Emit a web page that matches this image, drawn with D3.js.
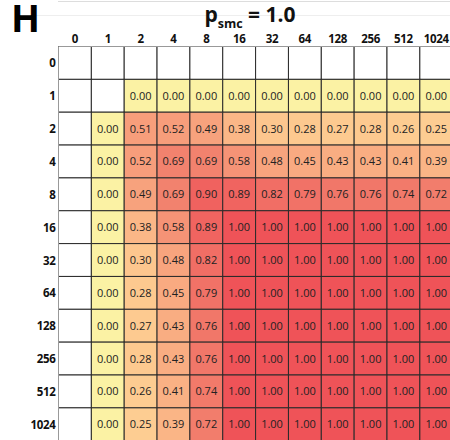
<!DOCTYPE html>
<html><head><meta charset="utf-8">
<script src="https://cdn.jsdelivr.net/npm/d3@7"></script>
<style>body{margin:0;background:#fff;}svg{display:block;}</style>
</head><body>
<svg id="c" width="450" height="440"></svg>
<script>
const colLabels = ["0","1","2","4","8","16","32","64","128","256","512","1024"];
const rowLabels = ["0","1","2","4","8","16","32","64","128","256","512","1024"];
const N = null;
const row0    = [N,N,N,N,N,N,N,N,N,N,N,N];
const row1    = [N,N,0.00,0.00,0.00,0.00,0.00,0.00,0.00,0.00,0.00,0.00];
const row2    = [N,0.00,0.51,0.52,0.49,0.38,0.30,0.28,0.27,0.28,0.26,0.25];
const row4    = [N,0.00,0.52,0.69,0.69,0.58,0.48,0.45,0.43,0.43,0.41,0.39];
const row8    = [N,0.00,0.49,0.69,0.90,0.89,0.82,0.79,0.76,0.76,0.74,0.72];
const row16   = [N,0.00,0.38,0.58,0.89,1.00,1.00,1.00,1.00,1.00,1.00,1.00];
const row32   = [N,0.00,0.30,0.48,0.82,1.00,1.00,1.00,1.00,1.00,1.00,1.00];
const row64   = [N,0.00,0.28,0.45,0.79,1.00,1.00,1.00,1.00,1.00,1.00,1.00];
const row128  = [N,0.00,0.27,0.43,0.76,1.00,1.00,1.00,1.00,1.00,1.00,1.00];
const row256  = [N,0.00,0.28,0.43,0.76,1.00,1.00,1.00,1.00,1.00,1.00,1.00];
const row512  = [N,0.00,0.26,0.41,0.74,1.00,1.00,1.00,1.00,1.00,1.00,1.00];
const row1024 = [N,0.00,0.25,0.39,0.72,1.00,1.00,1.00,1.00,1.00,1.00,1.00];
const matrix = [row0,row1,row2,row4,row8,row16,row32,row64,row128,row256,row512,row1024];

const svg = d3.select("#c");
const cell = 32.85;
const x0 = 58.5, y0 = 46.5;
const FONT = "'Open Sans', sans-serif";
const x = d3.scaleBand().domain(colLabels).range([x0, x0 + cell*colLabels.length]);
const y = d3.scaleBand().domain(rowLabels).range([y0, y0 + cell*rowLabels.length]);
const color = d3.scaleLinear()
  .domain([0, 0.3, 0.5, 0.7, 1.0])
  .range(["#fbf2a4", "#fdc68e", "#f7a07c", "#f2806d", "#ef5358"])
  .clamp(true);

// faint background lines at top
svg.append("line").attr("x1",58).attr("x2",450).attr("y1",1.5).attr("y2",1.5).attr("stroke","#ddd").attr("stroke-width",1);
svg.append("line").attr("x1",36).attr("x2",450).attr("y1",15.5).attr("y2",15.5).attr("stroke","#eee").attr("stroke-width",1);

const cells = [];
matrix.forEach((r,i)=>r.forEach((v,j)=>cells.push({r:rowLabels[i],c:colLabels[j],v})));

svg.append("g").selectAll("rect").data(cells).join("rect")
  .attr("x", d=>x(d.c)).attr("y", d=>y(d.r))
  .attr("width", x.bandwidth()).attr("height", y.bandwidth())
  .attr("fill", d=> d.v===null ? "#fff" : color(d.v))
  .attr("stroke", "#2a2a2a").attr("stroke-width", 1);

svg.append("g").selectAll("text").data(cells.filter(d=>d.v!==null)).join("text")
  .attr("x", d=>x(d.c)+x.bandwidth()/2).attr("y", d=>y(d.r)+y.bandwidth()/2+4)
  .attr("text-anchor","middle")
  .attr("font-family",FONT).attr("font-size",11).attr("fill","#222")
  .text(d=>d.v.toFixed(2));

// outer border lighter (top/left)
svg.append("line").attr("x1",x0).attr("x2",450).attr("y1",y0).attr("y2",y0).attr("stroke","#999");
svg.append("line").attr("x1",x0).attr("x2",x0).attr("y1",y0).attr("y2",440).attr("stroke","#999");

// column labels
svg.append("g").selectAll("text").data(colLabels).join("text")
  .attr("x", d=>x(d)+x.bandwidth()/2).attr("y", 43)
  .attr("text-anchor","middle").attr("letter-spacing",-0.3)
  .attr("font-family",FONT).attr("font-weight","bold").attr("font-size",11.5).attr("fill","#111")
  .text(d=>d);

// row labels
svg.append("g").selectAll("text").data(rowLabels).join("text")
  .attr("x", 55.5).attr("y", d=>y(d)+y.bandwidth()/2+4.5)
  .attr("text-anchor","end").attr("letter-spacing",-0.3)
  .attr("font-family",FONT).attr("font-weight","bold").attr("font-size",11.5).attr("fill","#111")
  .text(d=>d);

// title
const t = svg.append("text").attr("x", 250).attr("y", 22).attr("text-anchor","middle")
  .attr("font-family",FONT).attr("font-weight","bold").attr("font-size",21).attr("fill","#111");
t.append("tspan").text("p");
t.append("tspan").attr("font-size",12.5).attr("dy",5.5).text("smc");
t.append("tspan").attr("dy",-5.5).text(" = 1.0");

// panel label
svg.append("text").attr("x", 11).attr("y", 32)
  .attr("font-family",FONT).attr("font-weight","bold").attr("font-size",38).attr("fill","#000")
  .text("H");
</script>
</body></html>
